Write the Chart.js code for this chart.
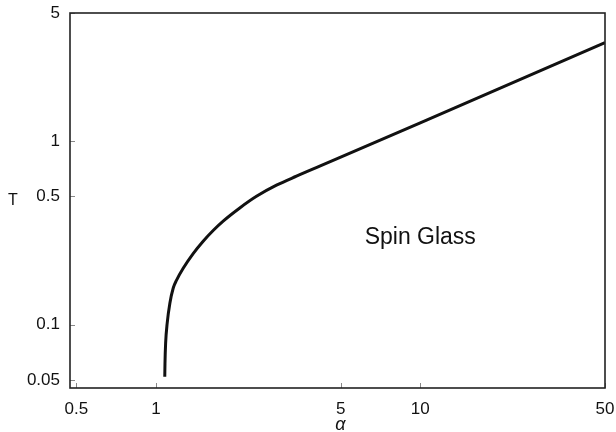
<!DOCTYPE html>
<html>
<head>
<meta charset="utf-8">
<script src="https://cdn.jsdelivr.net/npm/chart.js@4/dist/chart.umd.min.js"></script>
<style>
  html, body { margin: 0; padding: 0; background: #fff; }
  #wrap { width: 616px; height: 432px; }
</style>
</head>
<body>
<div id="wrap"><canvas id="phaseChart" width="616" height="432"></canvas></div>
<script>
// values
const alpha = [1.080, 1.082, 1.088, 1.103, 1.129, 1.162, 1.197, 1.268, 1.383, 1.509, 1.646, 1.796, 2.076, 2.401, 2.858, 3.401, 4.165, 10, 50];
const temp  = [0.0521, 0.0617, 0.0792, 0.1019, 0.131, 0.158, 0.175, 0.203, 0.244, 0.285, 0.326, 0.367, 0.433, 0.501, 0.576, 0.645, 0.731, 1.258, 3.45];

const xTicks = [0.5, 1, 5, 10, 50];
const yTicks = [0.05, 0.1, 0.5, 1, 5];

const regionLabel = { text: 'Spin Glass', x: 10, y: 0.3 };

const FONT = '"Liberation Sans", Arial, Helvetica, sans-serif';

// frame, inside tick marks and the free-standing texts
const decorations = {
    id: 'decorations',
    afterDraw(chart) {
        const ctx = chart.ctx;
        const a = chart.chartArea;
        const xs = chart.scales.x, ys = chart.scales.y;
        ctx.save();

        ctx.strokeStyle = '#888';
        ctx.lineWidth = 1;
        ctx.beginPath();
        xTicks.forEach(v => {
            const px = Math.round(xs.getPixelForValue(v)) + 0.5;
            ctx.moveTo(px, a.bottom);
            ctx.lineTo(px, a.bottom - 5);
        });
        yTicks.forEach(v => {
            const py = Math.round(ys.getPixelForValue(v)) + 0.5;
            ctx.moveTo(a.left, py);
            ctx.lineTo(a.left + 5, py);
        });
        ctx.stroke();

        ctx.strokeStyle = '#222';
        ctx.lineWidth = 1.6;
        ctx.strokeRect(a.left, a.top, a.right - a.left, a.bottom - a.top);

        ctx.fillStyle = '#111';
        ctx.textAlign = 'center';
        ctx.textBaseline = 'middle';
        ctx.font = '23px ' + FONT;
        ctx.fillText(regionLabel.text, xs.getPixelForValue(regionLabel.x), ys.getPixelForValue(regionLabel.y));

        ctx.font = '16px ' + FONT;
        ctx.fillText('T', 13, (a.top + a.bottom) / 2);

        ctx.font = 'italic 18px ' + FONT;
        ctx.fillText('α', (a.left + a.right) / 2 + 3, 425);
        ctx.restore();
    }
};

// keep the plot box where the reference has it
function noLabelPadding(s) {
    s.paddingTop = 0;
    s.paddingBottom = 0;
    s.paddingLeft = 0;
    s.paddingRight = 0;
}

const chart = new Chart(document.getElementById('phaseChart'), {
    type: 'line',
    data: {
        datasets: [{
            data: alpha.map((a, i) => ({ x: a, y: temp[i] })),
            borderColor: '#111',
            borderWidth: 3,
            pointRadius: 0,
            cubicInterpolationMode: 'monotone',
            fill: false
        }]
    },
    options: {
        responsive: false,
        animation: false,
        layout: { padding: { top: 13, right: 11, bottom: 0, left: 0 } },
        plugins: { legend: { display: false }, tooltip: { enabled: false } },
        scales: {
            x: {
                type: 'logarithmic',
                min: 0.473,
                max: 50,
                grid: { display: false, drawTicks: false },
                border: { display: false },
                afterBuildTicks: s => { s.ticks = xTicks.map(v => ({ value: v })); },
                afterFit: s => { s.height = 44; noLabelPadding(s); },
                ticks: {
                    autoSkip: false,
                    maxRotation: 0,
                    padding: 11,
                    color: '#111',
                    font: { family: FONT, size: 17 },
                    callback: v => String(v)
                }
            },
            y: {
                type: 'logarithmic',
                min: 0.0452,
                max: 5,
                grid: { display: false, drawTicks: false },
                border: { display: false },
                afterBuildTicks: s => { s.ticks = yTicks.map(v => ({ value: v })); },
                afterFit: s => { s.width = 70; noLabelPadding(s); },
                ticks: {
                    autoSkip: false,
                    padding: 10,
                    color: '#111',
                    font: { family: FONT, size: 17 },
                    callback: v => String(v)
                }
            }
        }
    },
    plugins: [decorations]
});
</script>
</body>
</html>
